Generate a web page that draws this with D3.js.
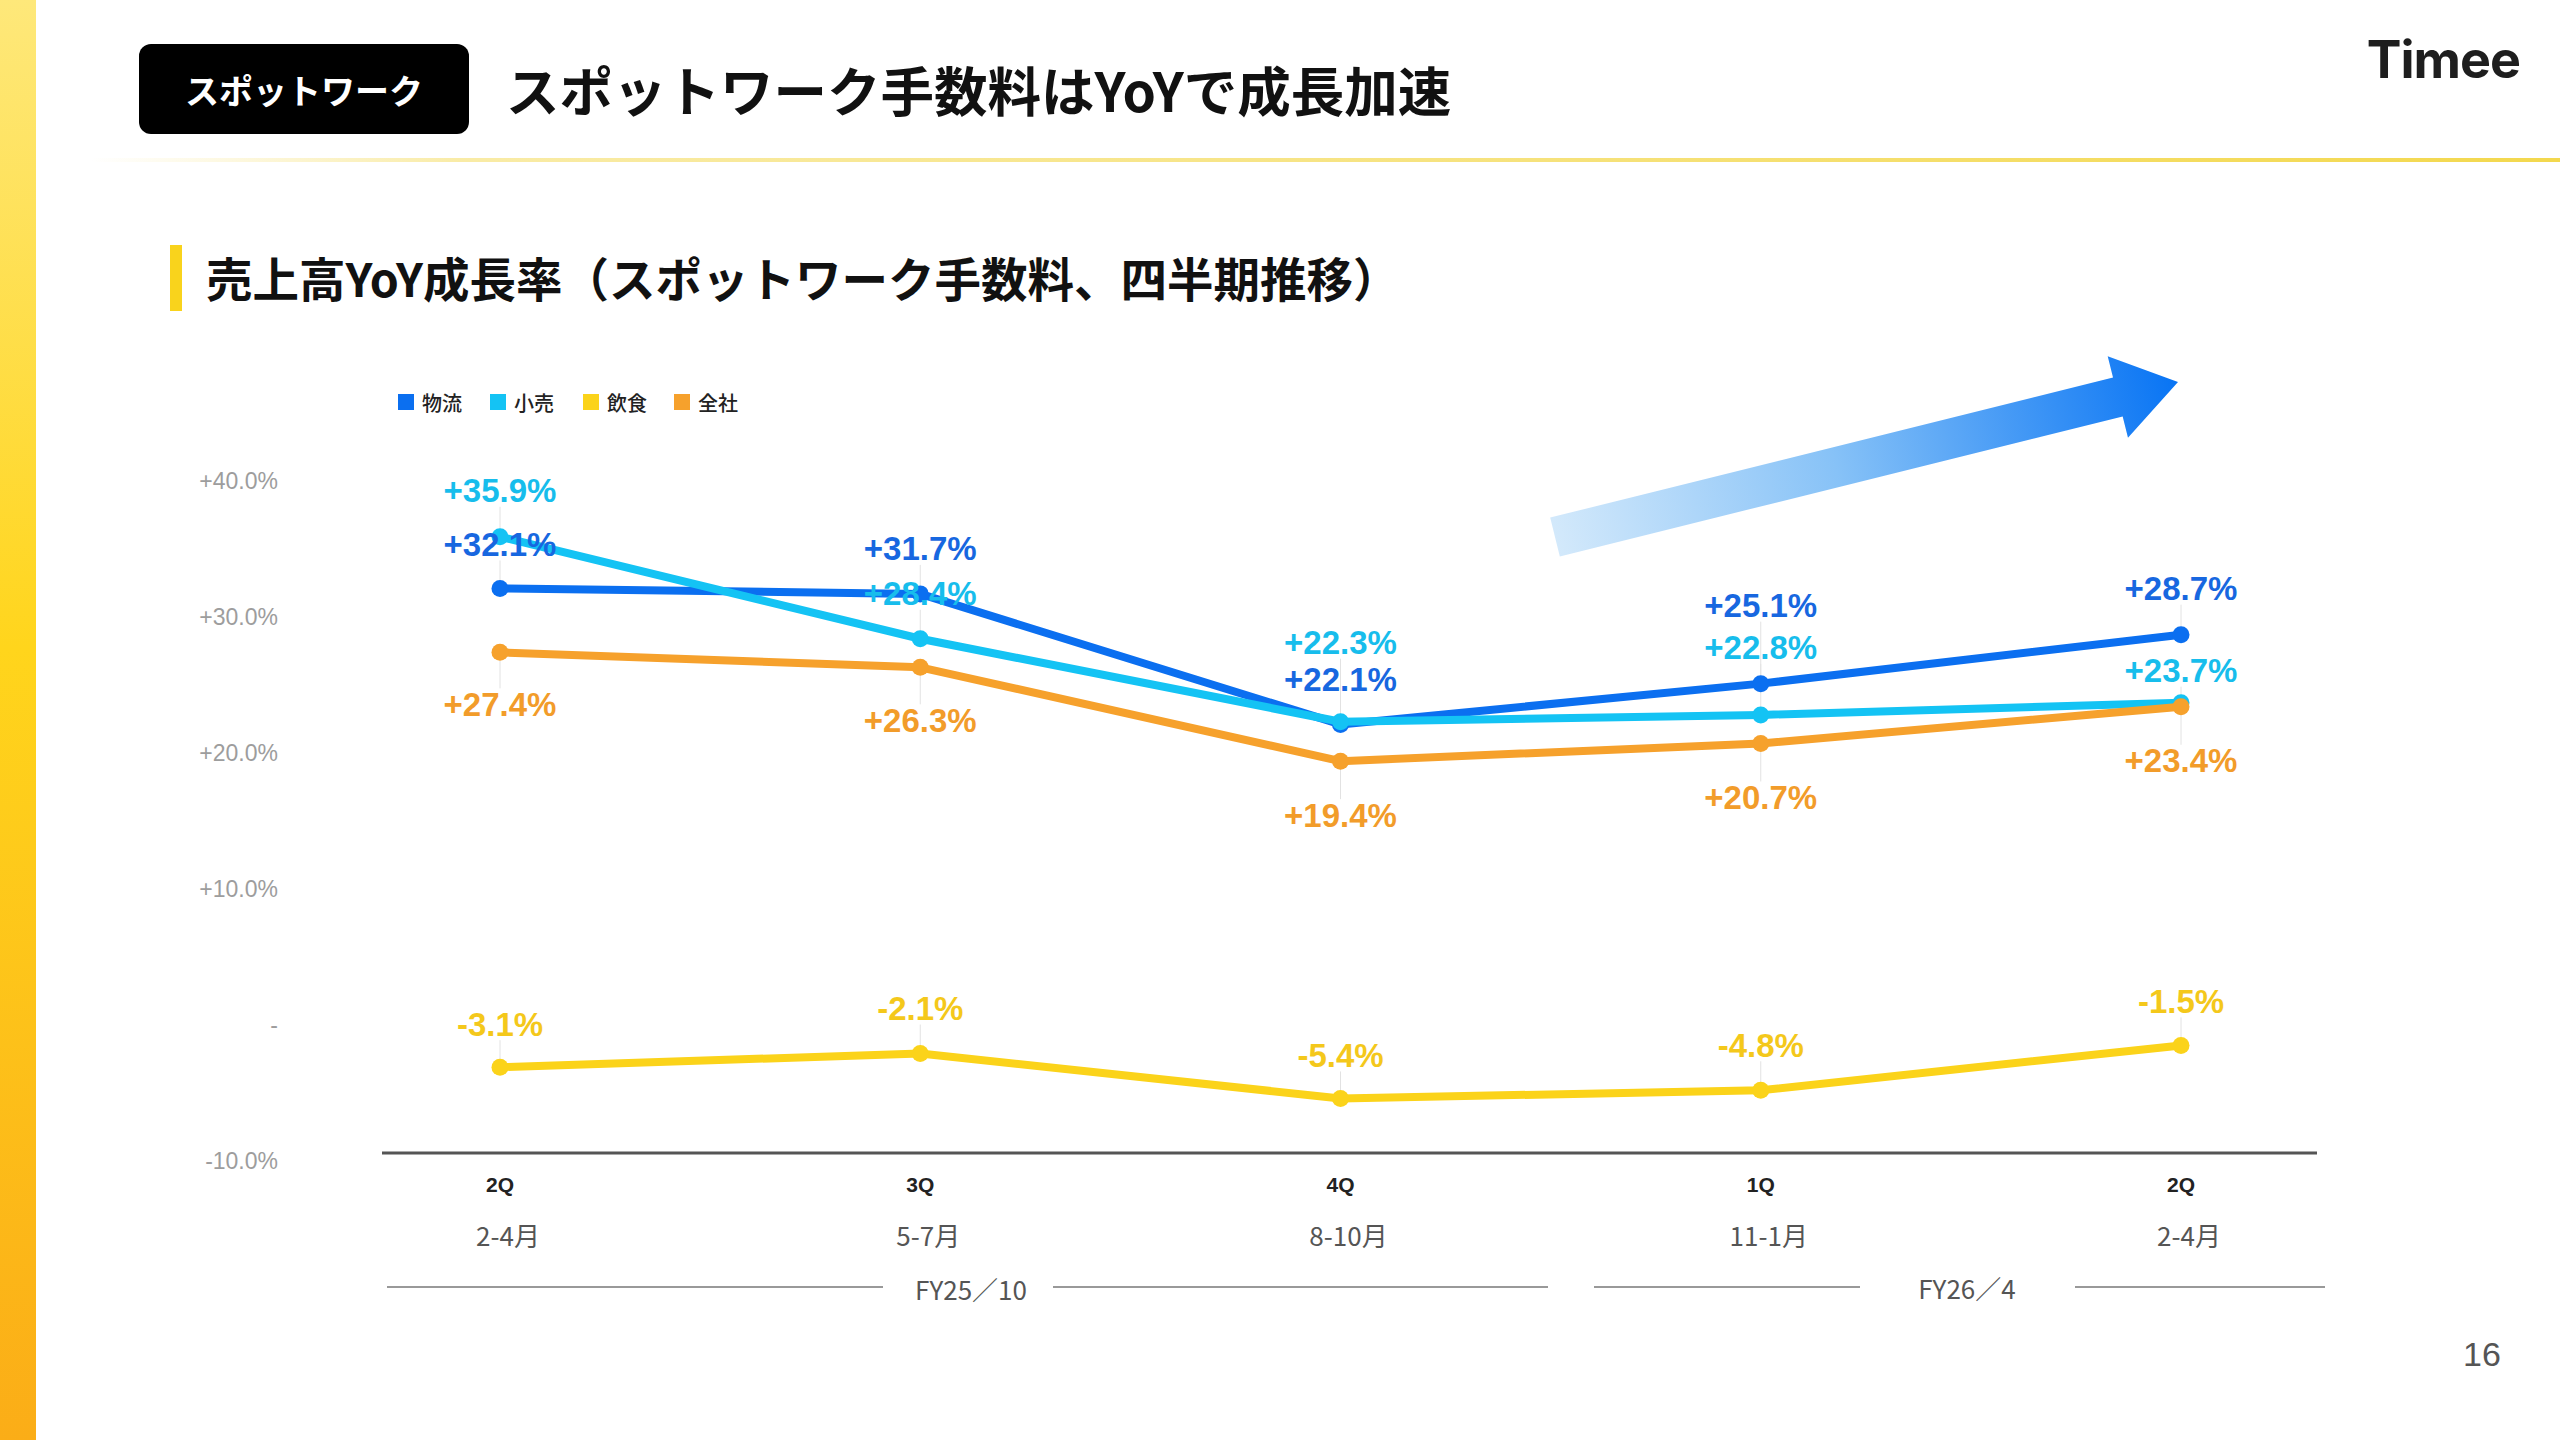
<!DOCTYPE html>
<html>
<head>
<meta charset="utf-8">
<script src="https://cdn.jsdelivr.net/npm/d3@7"></script>
<style>
  html, body { margin: 0; padding: 0; background: #fff; }
  svg { display: block; }
</style>
</head>
<body>
<div id="chart"></div>
<script>
// quarters on the x axis
var quarters = ["2Q", "3Q", "4Q", "1Q", "2Q "];
var quarterLabels = ["2Q", "3Q", "4Q", "1Q", "2Q"];
var monthLabels = ["2-4月", "5-7月", "8-10月", "11-1月", "2-4月"];

// YoY growth, %
var butsuryu = [32.1, 31.7, 22.1, 25.1, 28.7];   // 物流
var kouri = [35.9, 28.4, 22.3, 22.8, 23.7];      // 小売
var inshoku = [-3.1, -2.1, -5.4, -4.8, -1.5];    // 飲食
var zensha = [27.4, 26.3, 19.4, 20.7, 23.4];     // 全社

var yTicks = [40, 30, 20, 10, 0, -10];
var yTickLabels = ["+40.0%", "+30.0%", "+20.0%", "+10.0%", "-", "-10.0%"];

var seriesNames = ["物流", "小売", "飲食", "全社"];

var width = 2560, height = 1440;
var jp = "'Noto Sans CJK JP', 'Noto Sans', sans-serif";
var num = "'Liberation Sans', Arial, sans-serif";

var svg = d3.select("#chart").append("svg")
    .attr("width", width)
    .attr("height", height);

var defs = svg.append("defs");

// left yellow bar
var side = defs.append("linearGradient").attr("id", "side")
    .attr("x1", 0).attr("y1", 0).attr("x2", 0).attr("y2", 1);
side.append("stop").attr("offset", "0%").attr("stop-color", "#fee87a");
side.append("stop").attr("offset", "45%").attr("stop-color", "#ffd51c");
side.append("stop").attr("offset", "100%").attr("stop-color", "#fbad17");
svg.append("rect").attr("x", 0).attr("y", 0).attr("width", 36).attr("height", height)
    .attr("fill", "url(#side)");

// header rule
var rule = defs.append("linearGradient").attr("id", "rule")
    .attr("x1", 0).attr("y1", 0).attr("x2", 1).attr("y2", 0);
rule.append("stop").attr("offset", "0%").attr("stop-color", "#f7e27a").attr("stop-opacity", 0);
rule.append("stop").attr("offset", "15%").attr("stop-color", "#f5de6a").attr("stop-opacity", 0.6);
rule.append("stop").attr("offset", "100%").attr("stop-color", "#f3d84e");
svg.append("rect").attr("x", 90).attr("y", 158).attr("width", width - 90).attr("height", 4)
    .attr("fill", "url(#rule)");

// header
svg.append("rect").attr("x", 139).attr("y", 44).attr("width", 330).attr("height", 90)
    .attr("rx", 12).attr("fill", "#000");
svg.append("text").text("スポットワーク")
    .attr("x", 304).attr("y", 89)
    .attr("text-anchor", "middle").attr("dominant-baseline", "central")
    .attr("font-family", jp).attr("font-weight", 700).attr("font-size", 34)
    .attr("fill", "#fff");
svg.append("text").text("スポットワーク手数料はYoYで成長加速")
    .attr("x", 506).attr("y", 88)
    .attr("dominant-baseline", "central")
    .attr("font-family", jp).attr("font-weight", 700).attr("font-size", 53.5)
    .attr("fill", "#111");
svg.append("text").text("Timee")
    .attr("x", 2520).attr("y", 78)
    .attr("text-anchor", "end")
    .attr("font-family", "Inter, 'Open Sans', sans-serif").attr("font-weight", 700)
    .attr("font-size", 52).attr("letter-spacing", -1)
    .attr("fill", "#1e1e1e");

// section heading
svg.append("rect").attr("x", 170).attr("y", 245).attr("width", 12).attr("height", 66)
    .attr("fill", "#f9d31c");
svg.append("text").text("売上高YoY成長率（スポットワーク手数料、四半期推移）")
    .attr("x", 206).attr("y", 276)
    .attr("dominant-baseline", "central")
    .attr("font-family", jp).attr("font-weight", 700).attr("font-size", 46.5)
    .attr("fill", "#111");

// page number
svg.append("text").text("16")
    .attr("x", 2482).attr("y", 1354)
    .attr("text-anchor", "middle").attr("dominant-baseline", "central")
    .attr("font-family", num).attr("font-size", 34)
    .attr("fill", "#555");

// scales
var x = d3.scalePoint().domain(quarters).range([500, 2181]);
var y = d3.scaleLinear().domain([-10, 40]).range([1161, 481]);

var colors = d3.scaleOrdinal()
    .domain(seriesNames)
    .range(["#0b6ff0", "#14c3f4", "#fbd31a", "#f6a12c"]);
var labelColors = d3.scaleOrdinal()
    .domain(seriesNames)
    .range(["#1767e0", "#17bdec", "#f4c81b", "#f29c2a"]);

// y tick labels
svg.append("g").selectAll("text")
    .data(yTicks)
    .join("text")
    .attr("x", 278)
    .attr("y", function(d) { return y(d); })
    .attr("text-anchor", "end").attr("dominant-baseline", "central")
    .attr("font-family", num).attr("font-size", 23)
    .attr("fill", "#9d9d9d")
    .text(function(d, i) { return yTickLabels[i]; });

// x axis line
var axisY = y(-10) - 8;
svg.append("line")
    .attr("x1", 382).attr("x2", 2317)
    .attr("y1", axisY).attr("y2", axisY)
    .attr("stroke", "#555").attr("stroke-width", 3);

// category labels
var xLab = svg.append("g");
xLab.selectAll("text.q")
    .data(quarters)
    .join("text").attr("class", "q")
    .attr("x", function(d) { return x(d); })
    .attr("y", 1184)
    .attr("text-anchor", "middle").attr("dominant-baseline", "central")
    .attr("font-family", num).attr("font-weight", 700).attr("font-size", 21)
    .attr("fill", "#222")
    .text(function(d, i) { return quarterLabels[i]; });
xLab.selectAll("text.m")
    .data(quarters)
    .join("text").attr("class", "m")
    .attr("x", function(d) { return x(d) + 8; })
    .attr("y", 1234)
    .attr("text-anchor", "middle").attr("dominant-baseline", "central")
    .attr("font-family", jp).attr("font-size", 26)
    .attr("fill", "#555")
    .text(function(d, i) { return monthLabels[i]; });

// fiscal year brackets
var fy = svg.append("g");
[[387, 883], [1053, 1548], [1594, 1860], [2075, 2325]].forEach(function(s) {
    fy.append("line").attr("x1", s[0]).attr("x2", s[1])
        .attr("y1", 1287).attr("y2", 1287)
        .attr("stroke", "#999").attr("stroke-width", 2);
});
fy.append("text").text("FY25／10").attr("x", 971).attr("y", 1288)
    .attr("text-anchor", "middle").attr("dominant-baseline", "central")
    .attr("font-family", jp).attr("font-size", 26).attr("fill", "#555");
fy.append("text").text("FY26／4").attr("x", 1967).attr("y", 1287)
    .attr("text-anchor", "middle").attr("dominant-baseline", "central")
    .attr("font-family", jp).attr("font-size", 26).attr("fill", "#555");

// legend
var legend = svg.append("g").attr("transform", "translate(398,402)");
var legendX = [0, 92, 185, 276];
seriesNames.forEach(function(name, i) {
    var g = legend.append("g").attr("transform", "translate(" + legendX[i] + ",0)");
    g.append("rect").attr("x", 0).attr("y", -8).attr("width", 16).attr("height", 16)
        .attr("fill", colors(name));
    g.append("text").text(name).attr("x", 24).attr("y", 0)
        .attr("dominant-baseline", "central")
        .attr("font-family", jp).attr("font-weight", 500).attr("font-size", 20)
        .attr("fill", "#222");
});

// growth arrow
var arrowGrad = defs.append("linearGradient").attr("id", "arrowGrad")
    .attr("x1", 0).attr("y1", 0).attr("x2", 1).attr("y2", 0);
arrowGrad.append("stop").attr("offset", "0%").attr("stop-color", "#d3e9fb");
arrowGrad.append("stop").attr("offset", "45%").attr("stop-color", "#87c2f7");
arrowGrad.append("stop").attr("offset", "100%").attr("stop-color", "#0874f4");
var tail = [1555, 537], tip = [2178, 382];
var ang = Math.atan2(tip[1] - tail[1], tip[0] - tail[0]) * 180 / Math.PI;
var len = Math.hypot(tip[0] - tail[0], tip[1] - tail[1]);
svg.append("g")
    .attr("transform", "translate(" + tail[0] + "," + tail[1] + ") rotate(" + ang + ")")
    .append("path")
    .attr("d", "M0,-20 L" + (len - 62) + ",-20 L" + (len - 62) + ",-42 L" + len + ",0 L" +
        (len - 62) + ",42 L" + (len - 62) + ",20 L0,20 Z")
    .attr("fill", "url(#arrowGrad)");

// lines
var series = [
    { name: "物流", values: butsuryu },
    { name: "小売", values: kouri },
    { name: "全社", values: zensha },
    { name: "飲食", values: inshoku }
];

var line = d3.line()
    .x(function(d, i) { return x(quarters[i]); })
    .y(function(d) { return y(d); });

// label offsets from each point (px), to avoid overlaps
var labelDy = {
    "物流": [-44, -45, -45, -78, -46],
    "小売": [-46, -45, -79, -67, -32],
    "飲食": [-43, -45, -43, -45, -44],
    "全社": [52, 53, 54, 54, 54]
};

var plot = svg.append("g");

// faint leader lines
series.forEach(function(s) {
    plot.append("g").selectAll("line")
        .data(s.values)
        .join("line")
        .attr("x1", function(d, i) { return x(quarters[i]); })
        .attr("x2", function(d, i) { return x(quarters[i]); })
        .attr("y1", function(d) { return y(d); })
        .attr("y2", function(d, i) {
            var dy = labelDy[s.name][i];
            return y(d) + dy + (dy < 0 ? 16 : -16);
        })
        .attr("stroke", "#e2e2e2").attr("stroke-width", 1);
});

series.forEach(function(s) {
    plot.append("path")
        .datum(s.values)
        .attr("d", line)
        .attr("fill", "none")
        .attr("stroke", colors(s.name))
        .attr("stroke-width", 8)
        .attr("stroke-linejoin", "round")
        .attr("stroke-linecap", "round");
    plot.append("g").selectAll("circle")
        .data(s.values)
        .join("circle")
        .attr("cx", function(d, i) { return x(quarters[i]); })
        .attr("cy", function(d) { return y(d); })
        .attr("r", 8.5)
        .attr("fill", colors(s.name));
});

// value labels
var fmt = function(d) { return (d > 0 ? "+" : "") + d.toFixed(1) + "%"; };
series.forEach(function(s) {
    plot.append("g").selectAll("text")
        .data(s.values)
        .join("text")
        .attr("x", function(d, i) { return x(quarters[i]); })
        .attr("y", function(d, i) { return y(d) + labelDy[s.name][i]; })
        .attr("text-anchor", "middle").attr("dominant-baseline", "central")
        .attr("font-family", num).attr("font-weight", 700).attr("font-size", 33)
        .attr("fill", labelColors(s.name))
        .text(fmt);
});
</script>
</body>
</html>
